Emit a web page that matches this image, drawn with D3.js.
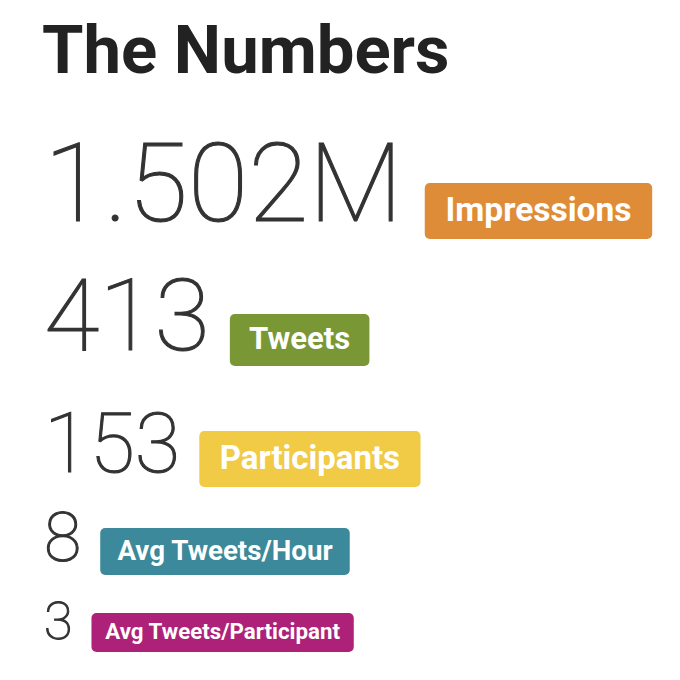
<!DOCTYPE html>
<html>
<head>
<meta charset="utf-8">
<script src="https://cdn.jsdelivr.net/npm/d3@7"></script>
<style>
  html, body { margin: 0; padding: 0; background: #fff; }
  svg { display: block; }
</style>
</head>
<body>
<svg id="chart"></svg>
<script>
// Data
const title = "The Numbers";
const values = ["1.502M", "413", "153", "8", "3"];
const labels = ["Impressions", "Tweets", "Participants", "Avg Tweets/Hour", "Avg Tweets/Participant"];
const colors = ["#df8c39", "#7a9736", "#f1cb45", "#3b899a", "#ad2278"];

// Styles per row
const numberSizes = [110, 101, 83, 68, 52];
const labelSizes = [33.5, 31, 33, 27.7, 22.3];
const badgeHeights = [56, 52, 56, 47, 39];
const baselines = [221, 350, 472, 561, 639];
const badgeDrop = [18, 16, 15, 14, 13]; // badge bottom below number baseline
const gaps = [22, 20, 19, 19, 19];

const width = 680, height = 680, left = 44;

const svg = d3.select("#chart").attr("width", width).attr("height", height);

svg.append("text")
  .attr("x", 42)
  .attr("y", 73)
  .attr("font-family", "Roboto")
  .attr("font-weight", 700)
  .attr("font-size", 67)
  .attr("fill", "#222")
  .text(title);

const rows = svg.selectAll(".row")
  .data(values.map((v, i) => ({ value: v, label: labels[i], color: colors[i], i })))
  .join("g")
  .attr("class", "row");

rows.append("text")
  .attr("class", "num")
  .attr("x", left)
  .attr("y", (d) => baselines[d.i])
  .attr("font-family", "Roboto")
  .attr("font-weight", 100)
  .attr("font-size", (d) => numberSizes[d.i])
  .attr("fill", "#333")
  .attr("stroke", "#333")
  .attr("stroke-width", 1.1)
  .text((d) => d.value);

rows.each(function (d) {
  const g = d3.select(this);
  const numW = g.select(".num").node().getComputedTextLength();
  const bx = left + numW + gaps[d.i];
  const bBottom = baselines[d.i] + badgeDrop[d.i];
  const bh = badgeHeights[d.i];
  const padX = labelSizes[d.i] * 0.62;

  const lbl = g.append("text")
    .attr("font-family", "Roboto")
    .attr("font-weight", 700)
    .attr("font-size", labelSizes[d.i])
    .attr("fill", "#fff")
    .text(d.label);
  const lw = lbl.node().getComputedTextLength();

  g.insert("rect", "text:last-child")
    .attr("x", bx)
    .attr("y", bBottom - bh)
    .attr("width", lw + padX * 2)
    .attr("height", bh)
    .attr("rx", 5)
    .attr("fill", d.color);

  lbl.attr("x", bx + padX)
    .attr("y", bBottom - bh / 2)
    .attr("dy", "0.3em");
});
</script>
</body>
</html>
